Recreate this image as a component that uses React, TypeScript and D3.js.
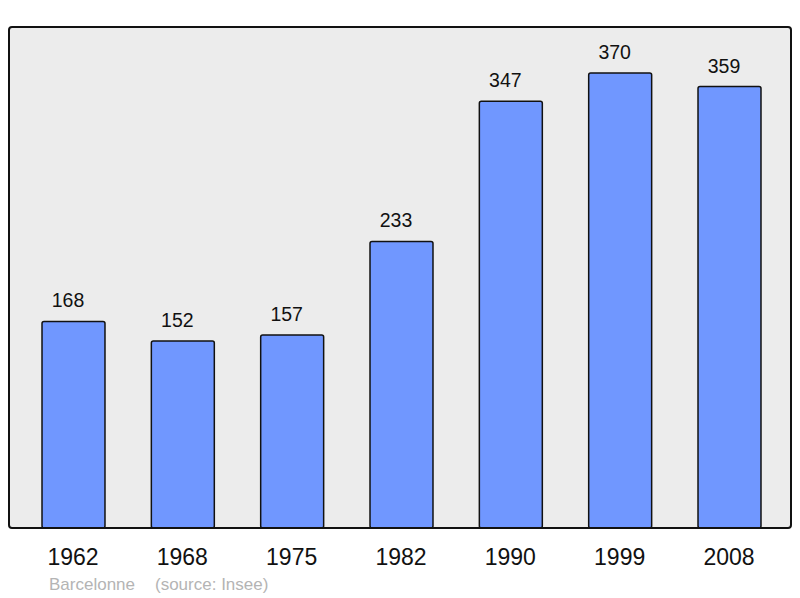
import React from "react";
import * as d3 from "d3";

const years = ["1962", "1968", "1975", "1982", "1990", "1999", "2008"];
const population = [168, 152, 157, 233, 347, 370, 359];
const footerPlace = "Barcelonne";
const footerSource = "(source: Insee)";

const W = 800;
const H = 598;
const frame = { x0: 9, y0: 27, x1: 791, y1: 528 };

export default function App() {
  const x = d3
    .scaleBand<string>()
    .domain(years)
    .range([18.83, 784.17])
    .paddingInner(0.424)
    .paddingOuter(0.212);
  const y = d3.scaleLinear().domain([0, 407.4]).range([frame.y1, frame.y0]);
  const font = "'Liberation Sans', Arial, sans-serif";

  return (
    <svg
      width={W}
      height={H}
      style={{ position: "absolute", left: 0, top: 0 }}
      fontFamily={font}
    >
      <rect x={0} y={0} width={W} height={H} fill="#ffffff" />
      <rect
        x={frame.x0}
        y={frame.y0}
        width={frame.x1 - frame.x0}
        height={frame.y1 - frame.y0}
        rx={3}
        fill="#ececec"
        stroke="none"
      />
      {years.map((yr, i) => {
        const v = population[i];
        const bx = x(yr)!;
        const bw = x.bandwidth();
        const top = y(v);
        return (
          <g key={yr}>
            <rect
              x={bx}
              y={top}
              width={bw}
              height={frame.y1 - top}
              rx={2}
              fill="#7097ff"
              stroke="#111"
              strokeWidth={1.5}
            />
            <text
              x={bx + bw / 2 - 5.5}
              y={top - 14}
              textAnchor="middle"
              fontSize={19.5}
              fill="#111"
            >
              {v}
            </text>
            <text
              x={bx + bw / 2 - 0.5}
              y={565}
              textAnchor="middle"
              fontSize={23}
              fill="#111"
            >
              {yr}
            </text>
          </g>
        );
      })}
      <rect
        x={frame.x0}
        y={frame.y0}
        width={frame.x1 - frame.x0}
        height={frame.y1 - frame.y0}
        rx={3}
        fill="none"
        stroke="#111"
        strokeWidth={2}
      />
      <text x={49} y={590} fontSize={17} fill="#b4b4b4">
        {footerPlace}
      </text>
      <text x={155} y={590} fontSize={17} fill="#b4b4b4">
        {footerSource}
      </text>
    </svg>
  );
}
